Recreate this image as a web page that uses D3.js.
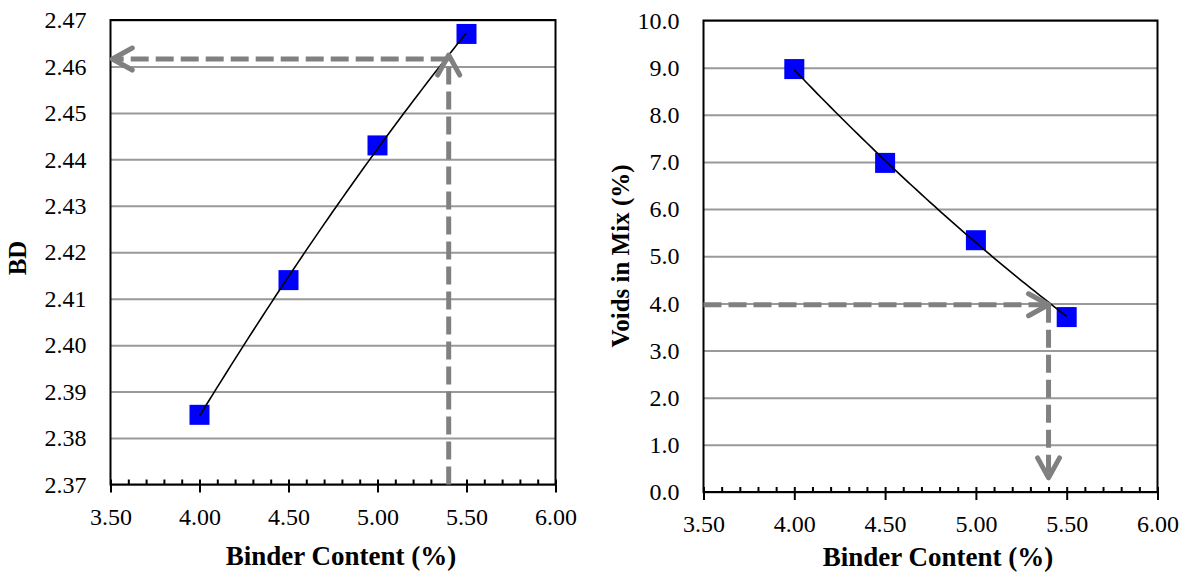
<!DOCTYPE html>
<html>
<head>
<meta charset="utf-8">
<script src="https://cdn.jsdelivr.net/npm/d3@7"></script>
<style>
  body { margin: 0; background: #fff; }
  svg { display: block; }
  text { font-family: "Times New Roman", "Liberation Serif", serif; fill: #000; }
</style>
</head>
<body>
<svg id="chart" width="1192" height="575"></svg>
<script>
// data
var binder = [4.0, 4.5, 5.0, 5.5]          // binder content (%)
var bulkDensity = [2.385, 2.414, 2.443, 2.467]
var voids = [8.97, 6.98, 5.34, 3.71]       // voids in mix (%)

// optimum read-off (dashed arrows)
var optBinder = 5.40
var optBD = 2.4616
var optVoids = 3.97
var arrowEndBinder = 3.51   // left arrow tip on BD chart
var arrowEndVoids = 0.30    // down arrow tip on voids chart

var xDomain = [3.5, 6.0]
var bdDomain = [2.37, 2.47]
var voidsDomain = [0, 10]

var svg = d3.select("#chart")

// least squares 2nd order polynomial, like the excel trendline
function polyFit2(xs, ys) {
  var s = [0,0,0,0,0], t = [0,0,0]
  xs.forEach((x, i) => {
    for (let k = 0; k < 5; k++) s[k] += Math.pow(x, k)
    for (let k = 0; k < 3; k++) t[k] += ys[i] * Math.pow(x, k)
  })
  var m = [[s[0], s[1], s[2], t[0]], [s[1], s[2], s[3], t[1]], [s[2], s[3], s[4], t[2]]]
  for (let c = 0; c < 3; c++) {
    for (let r = c + 1; r < 3; r++) {
      let f = m[r][c] / m[c][c]
      for (let k = c; k < 4; k++) m[r][k] -= f * m[c][k]
    }
  }
  var a = [0, 0, 0]
  for (let r = 2; r >= 0; r--) {
    let v = m[r][3]
    for (let k = r + 1; k < 3; k++) v -= m[r][k] * a[k]
    a[r] = v / m[r][r]
  }
  return x => a[0] + a[1] * x + a[2] * x * x
}

function drawPanel(cfg) {
  var x = d3.scaleLinear().domain(xDomain).range([cfg.left, cfg.right])
  var y = d3.scaleLinear().domain(cfg.yDomain).range([cfg.bottom, cfg.top])
  var w = cfg.right - cfg.left
  var g = svg.append("g")

  // gridlines + y labels
  var yAxis = g.append("g")
    .attr("transform", `translate(${cfg.left},0)`)
    .call(d3.axisLeft(y).ticks(10).tickFormat(d3.format(cfg.yFormat)).tickSize(-w).tickPadding(24))
    .attr("font-family", null).attr("font-size", null)
  yAxis.select(".domain").remove()
  yAxis.selectAll("line").attr("stroke", "#999").attr("stroke-width", 2)
  yAxis.selectAll("text").style("font-size", "24px")

  // minor ticks (inside)
  var minor = g.append("g")
    .attr("transform", `translate(0,${cfg.bottom})`)
    .call(d3.axisBottom(x).ticks(25).tickSize(-5).tickFormat(""))
  minor.select(".domain").remove()
  minor.selectAll("line").attr("stroke", "#000").attr("stroke-width", 2)

  // major ticks (cross) + labels
  var major = g.append("g")
    .attr("transform", `translate(0,${cfg.bottom})`)
    .call(d3.axisBottom(x).ticks(5).tickSize(8).tickPadding(15).tickFormat(d3.format(".2f")))
    .attr("font-family", null).attr("font-size", null)
  major.select(".domain").remove()
  major.selectAll("line").attr("stroke", "#000").attr("stroke-width", 2)
  major.selectAll("text").style("font-size", "24px")

  // plot border
  g.append("rect")
    .attr("x", cfg.left).attr("y", cfg.top)
    .attr("width", w).attr("height", cfg.bottom - cfg.top)
    .attr("fill", "none").attr("stroke", "#000").attr("stroke-width", 2)

  // trendline points
  var fit = polyFit2(binder, cfg.values)
  var xs = d3.range(0, 61).map(i => binder[0] + i * (binder[binder.length - 1] - binder[0]) / 60)

  // markers
  g.selectAll(".marker").data(binder).enter().append("rect")
    .attr("class", "marker")
    .attr("x", d => x(d) - 10)
    .attr("y", (d, i) => y(cfg.values[i]) - 10)
    .attr("width", 20).attr("height", 20)
    .attr("fill", "#0000ff")

  // trendline on top of markers
  g.append("path")
    .attr("d", d3.line().x(d => x(d)).y(d => y(fit(d)))(xs))
    .attr("fill", "none").attr("stroke", "#000").attr("stroke-width", 1.6)

  // axis titles
  g.append("text")
    .attr("x", cfg.xTitleX).attr("y", cfg.xTitleY)
    .attr("text-anchor", "middle")
    .style("font-size", "27px").style("font-weight", "bold")
    .text("Binder Content (%)")
  g.append("text")
    .attr("transform", `translate(${cfg.yTitleX},${cfg.yTitleY}) rotate(-90)`)
    .attr("text-anchor", "middle")
    .style("font-size", "25px").style("font-weight", "bold")
    .text(cfg.yTitle)

  return {x: x, y: y, g: g}
}

function dashed(g, pts) {
  g.append("path")
    .attr("d", d3.line()(pts))
    .attr("fill", "none").attr("stroke", "#808080")
    .attr("stroke-width", 5).attr("stroke-dasharray", "18,7")
}

function chevron(g, tip, dir) {
  // dir: unit vector the arrow points to
  var bx = -dir[0], by = -dir[1]
  var px = -by, py = bx
  var len = 20, half = 11
  var pts = [
    [tip[0] + bx * len + px * half, tip[1] + by * len + py * half],
    tip,
    [tip[0] + bx * len - px * half, tip[1] + by * len - py * half]
  ]
  g.append("path")
    .attr("d", d3.line()(pts))
    .attr("fill", "none").attr("stroke", "#808080")
    .attr("stroke-width", 5).attr("stroke-linecap", "round").attr("stroke-linejoin", "round")
}

// left: bulk density
var left = drawPanel({
  left: 110.5, right: 555.5, top: 20, bottom: 484.5,
  yDomain: bdDomain, values: bulkDensity, yFormat: ".2f",
  xTitleX: 341, xTitleY: 565, yTitle: "BD", yTitleX: 26, yTitleY: 258
})
dashed(left.g, [[left.x(optBinder), left.y(bdDomain[0])], [left.x(optBinder), left.y(optBD) - 3]])
chevron(left.g, [left.x(optBinder), left.y(optBD) - 4], [0, -1])
dashed(left.g, [[left.x(optBinder), left.y(optBD)], [left.x(arrowEndBinder) + 2, left.y(optBD)]])
chevron(left.g, [left.x(arrowEndBinder), left.y(optBD)], [-1, 0])

// right: voids in mix
var right = drawPanel({
  left: 703.5, right: 1157.5, top: 20.5, bottom: 492,
  yDomain: voidsDomain, values: voids, yFormat: ".1f",
  xTitleX: 938, xTitleY: 566, yTitle: "Voids in Mix (%)", yTitleX: 629, yTitleY: 256
})
dashed(right.g, [[right.x(xDomain[0]), right.y(optVoids)], [right.x(optBinder) - 2, right.y(optVoids)]])
chevron(right.g, [right.x(optBinder), right.y(optVoids)], [1, 0])
dashed(right.g, [[right.x(optBinder), right.y(optVoids)], [right.x(optBinder), right.y(arrowEndVoids) - 2]])
chevron(right.g, [right.x(optBinder), right.y(arrowEndVoids)], [0, 1])
</script>
</body>
</html>
